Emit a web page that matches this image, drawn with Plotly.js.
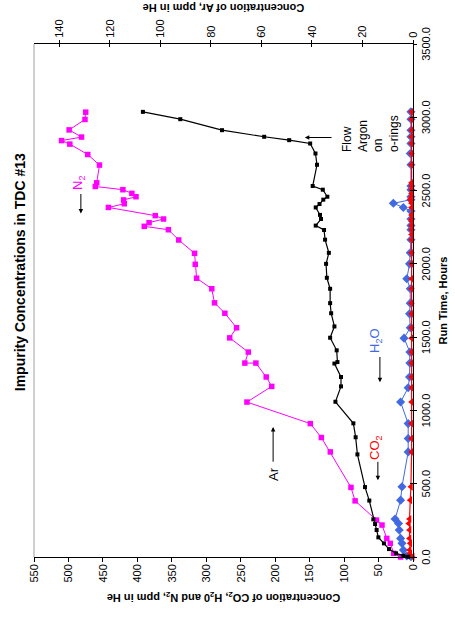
<!DOCTYPE html>
<html>
<head>
<meta charset="utf-8">
<script src="https://cdn.plot.ly/plotly-3.0.1.min.js"></script>
<style>
html, body { margin:0; padding:0; overflow:hidden; background:#fff; width:455px; height:620px; }
#chart { position:absolute; left:0; top:0; width:620px; height:455px;
         transform-origin:0 0; transform:translate(0px,620px) rotate(-90deg); }
</style>
</head>
<body>
<div id="chart"></div>
<script>
// Run time (hours) and concentrations
const tN2 = [0, 25, 93, 127, 218, 252, 383, 475, 717, 815, 910, 1057, 1164, 1228, 1323, 1323, 1398, 1495, 1564, 1663, 1734, 1830, 1902, 1997, 2072, 2163, 2233, 2256, 2281, 2306, 2329, 2385, 2410, 2436, 2458, 2481, 2506, 2528, 2553, 2674, 2746, 2817, 2841, 2865, 2914, 2985, 3035];
const n2  = [18, 28, 33, 38, 45, 53, 84, 90, 120, 133, 149, 241, 205, 213, 228, 244, 239, 266, 256, 273, 288, 292, 314, 316, 317, 340, 355, 390, 383, 362, 374, 442, 419, 420, 402, 408, 421, 461, 459, 455, 472, 498, 510, 481, 499, 476, 475];

const tAr = [2, 9, 25, 54, 93, 134, 184, 225, 257, 385, 477, 700, 817, 912, 1059, 1164, 1228, 1320, 1330, 1410, 1496, 1573, 1663, 1732, 1830, 1905, 2000, 2075, 2165, 2231, 2261, 2306, 2334, 2385, 2408, 2438, 2458, 2506, 2531, 2676, 2753, 2821, 2844, 2867, 2912, 2987, 3037];
const ar  = [1.9, 3.8, 6.7, 9.5, 11.5, 13.7, 14.4, 15.0, 15.7, 17.3, 19.0, 22.0, 22.7, 23.6, 30.7, 28.5, 28.5, 31.1, 29.9, 30.2, 32.8, 31.1, 32.4, 32.8, 32.8, 34.1, 34.4, 33.3, 34.8, 35.2, 38.5, 36.4, 36.8, 38.5, 37.0, 35.5, 33.9, 35.7, 39.7, 38.0, 38.6, 40.7, 49.0, 58.9, 75.6, 92.1, 106.9];

const tH2O = [2, 7, 48, 93, 127, 184, 229, 259, 388, 479, 717, 808, 910, 1057, 1155, 1228, 1323, 1398, 1493, 1564, 1659, 1732, 1830, 1898, 2000, 2075, 2165, 2233, 2261, 2306, 2360, 2385, 2413, 2438, 2458, 2506, 2531, 2676, 2753, 2821, 2867, 2912, 2987, 3037];
const h2o  = [3, 9, 14, 16, 18, 20, 21, 26, 18, 16, 7, 7, 7, 18, 7, 5, 4.5, 4.5, 13, 4, 5, 4, 4, 9, 5, 4, 3, 3, 3, 3, 3, 14, 28.5, 3, 3, 3, 3, 3, 4, 3, 3, 3, 3, 3];

const tCO2 = [2, 25, 48, 93, 127, 184, 229, 259, 388, 479, 717, 808, 910, 1057, 1155, 1228, 1323, 1398, 1493, 1564, 1659, 1732, 1830, 1898, 2000, 2075, 2165, 2200, 2233, 2261, 2290, 2306, 2334, 2385, 2413, 2438, 2458, 2480, 2506, 2531, 2553, 2676, 2753, 2821, 2867, 2912, 2987, 3037];
const co2  = [0.5, 4, 5, 4, 5, 5, 6, 5, 4, 3, 2, 2, 2, 2, 2, 2, 2, 2, 2, 2, 2, 2, 2, 2, 2, 2, 2, 2, 2, 2, 2, 2, 2, 2, 2, 4, 2, 2, 2, 2, 2, 2, 2, 2, 2, 2, 2, 2];

const timeTicks = [0, 500, 1000, 1500, 2000, 2500, 3000, 3500];

const FONT = 'Liberation Sans, Arial, sans-serif';
const BLUE = '#4169e1';

const traces = [
  { x: tN2, y: n2, name: 'N2', mode: 'lines+markers', cliponaxis: false,
    line: { color: '#ff00ff', width: 1 }, marker: { symbol: 'square', size: 5.5, color: '#ff00ff' } },
  { x: tAr, y: ar, name: 'Ar', yaxis: 'y2', mode: 'lines+markers', cliponaxis: false,
    line: { color: '#000000', width: 1.2 }, marker: { symbol: 'square', size: 4, color: '#000000' } },
  { x: tH2O, y: h2o, name: 'H2O', mode: 'lines+markers', cliponaxis: false,
    line: { color: BLUE, width: 1 }, marker: { symbol: 'diamond', size: 7, color: BLUE } },
  { x: tCO2, y: co2, name: 'CO2', mode: 'lines+markers', cliponaxis: false,
    line: { color: '#ff0000', width: 1.2 }, marker: { symbol: 'triangle-up', size: 7, color: '#ff0000' } },
  // empty helpers so the inner halves of the crossing ticks are drawn
  { x: [], y: [], xaxis: 'x2', yaxis: 'y', hoverinfo: 'skip', showlegend: false },
  { x: [], y: [], xaxis: 'x', yaxis: 'y3', hoverinfo: 'skip', showlegend: false }
];

function arrow(xh, yh, xt, yt) {
  return { x: xh, y: yh, ax: xt, ay: yt, xref: 'x', yref: 'y', axref: 'x', ayref: 'y',
           text: '', showarrow: true, arrowhead: 2, arrowsize: 0.9, arrowwidth: 1, arrowcolor: '#000', standoff: 0 };
}

const layout = {
  width: 620, height: 455,
  margin: { l: 63, r: 44, t: 34, b: 42 },
  paper_bgcolor: '#fff', plot_bgcolor: '#fff',
  showlegend: false,
  font: { family: FONT, size: 11, color: '#000' },
  title: { text: 'Impurity Concentrations in TDC #13', x: 0.561, xanchor: 'center', y: 0.956, yanchor: 'middle',
           font: { family: FONT, size: 14, weight: 'bold', color: '#000' } },
  xaxis: { range: [0, 3500], tickvals: timeTicks, tickformat: '.1f', ticks: 'outside', ticklen: 3,
           showline: true, linecolor: '#000', linewidth: 1, tickcolor: '#000', showgrid: false, zeroline: false,
           title: { text: 'Run Time, Hours', font: { family: FONT, size: 11, weight: 'bold' }, standoff: 8 } },
  xaxis2: { range: [0, 3500], tickvals: timeTicks, overlaying: 'x', anchor: 'y', side: 'bottom',
            ticks: 'inside', ticklen: 3, tickcolor: '#000', showticklabels: false,
            showline: false, showgrid: false, zeroline: false },
  yaxis: { range: [0, 550], dtick: 50, tick0: 0, ticks: 'outside', ticklen: 4,
           showline: true, linecolor: '#000', linewidth: 1, tickcolor: '#000', showgrid: false, zeroline: false,
           title: { text: 'Concentration of CO<sub>2</sub>, H<sub>2</sub>0 and N<sub>2</sub>, ppm in He',
                    font: { family: FONT, size: 11, weight: 'bold' }, standoff: 8 } },
  yaxis2: { range: [0, 150], dtick: 20, tick0: 0, ticks: 'outside', ticklen: 3, overlaying: 'y', side: 'right',
            showline: true, linecolor: '#000', linewidth: 1, tickcolor: '#000', showgrid: false, zeroline: false,
            title: { text: 'Concentration of Ar, ppm in He', font: { family: FONT, size: 11, weight: 'bold' }, standoff: 8 } },
  yaxis3: { range: [0, 150], dtick: 20, tick0: 0, ticks: 'inside', ticklen: 3, overlaying: 'y', side: 'right',
            tickcolor: '#000', showticklabels: false, showline: false, showgrid: false, zeroline: false },
  shapes: [
    { type: 'line', xref: 'paper', yref: 'paper', x0: 0, x1: 1, y0: 1, y1: 1, line: { color: '#a0a0a0', width: 1 } }
  ],
  annotations: [
    { x: 565, y: 202, xref: 'x', yref: 'y', text: 'Ar', showarrow: false, font: { size: 13, color: '#000' } },
    arrow(887, 203, 640, 203),
    { x: 749, y: 55, xref: 'x', yref: 'y', text: 'CO<sub>2</sub>', showarrow: false, font: { size: 13, color: '#ff0000' } },
    arrow(524, 51, 660, 51),
    { x: 1478, y: 54, xref: 'x', yref: 'y', text: 'H<sub>2</sub>O', showarrow: false, font: { size: 13, color: BLUE } },
    arrow(1192, 48, 1375, 48),
    { x: 2550, y: 486, xref: 'x', yref: 'y', text: 'N<sub>2</sub>', showarrow: false, font: { size: 13, color: '#ff00ff' } },
    arrow(2344, 482, 2487, 482),
    { x: 2751, y: 61, xref: 'x', yref: 'y', xanchor: 'left', yanchor: 'middle', align: 'left',
      text: 'Flow<br>Argon<br>on<br>o-rings', showarrow: false, font: { size: 12, color: '#000' } },
    arrow(2862, 157, 2862, 116)
  ]
};

Plotly.newPlot('chart', traces, layout, { staticPlot: true, displayModeBar: false });
</script>
</body>
</html>
